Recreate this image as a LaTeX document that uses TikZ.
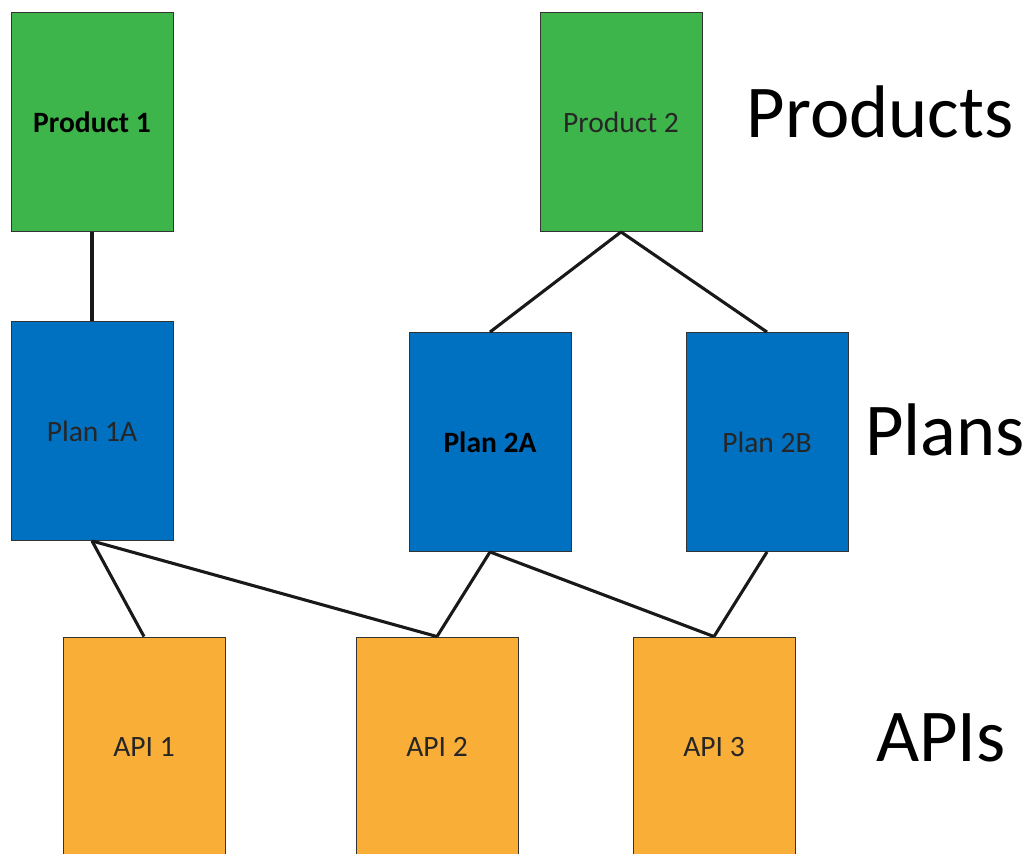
\documentclass[tikz,border=0pt]{standalone}
\usepackage{fontspec}
\setmainfont{Carlito}
\usetikzlibrary{positioning}
\definecolor{prodgreen}{HTML}{3DB54A}
\definecolor{planblue}{HTML}{0070C0}
\definecolor{apiorange}{HTML}{F9AE38}

\begin{document}
\begin{tikzpicture}[x=0.025cm,y=-0.025cm,
  box/.style={draw=black!80,line width=0.6pt,minimum width=4.05cm,minimum height=5.475cm,inner sep=0pt,font=\fontsize{21}{25}\selectfont,text=black!85},
  product/.style={box,fill=prodgreen},
  plan/.style={box,fill=planblue},
  api/.style={box,fill=apiorange,minimum height=5.5cm},
  link/.style={line width=2.2pt,black!90},
  level/.style={font=\fontsize{53}{60}\selectfont}]
  \useasboundingbox (0,0) rectangle (1034,854);
  \node[product,text=black] (p1) at (92,122) {\textbf{Product 1}};
  \node[product] (p2) at (621,122) {Product 2};
  \node[plan] (pl1a) at (92,431) {Plan 1A};
  \node[plan,text=black] (pl2a) at (490,442) {\textbf{Plan 2A}};
  \node[plan] (pl2b) at (767,442) {Plan 2B};
  \node[api] (api1) at (144,747) {API 1};
  \node[api] (api2) at (437,747) {API 2};
  \node[api] (api3) at (714,747) {API 3};
  % links between levels
  \draw[link] (p1.south) -- (pl1a.north);
  \draw[link] (p2.south) -- (pl2a.north);
  \draw[link] (p2.south) -- (pl2b.north);
  \draw[link] (pl1a.south) -- (api1.north);
  \draw[link] (pl1a.south) -- (api2.north);
  \draw[link] (pl2a.south) -- (api2.north);
  \draw[link] (pl2a.south) -- (api3.north);
  \draw[link] (pl2b.south) -- (api3.north);
  % level names
  \node[level] (lprod) at (880,112) {Products};
  \node[level] (lplan) at (945,430) {Plans};
  \node[level] (lapi) at (941,738) {APIs};
\end{tikzpicture}
\end{document}
